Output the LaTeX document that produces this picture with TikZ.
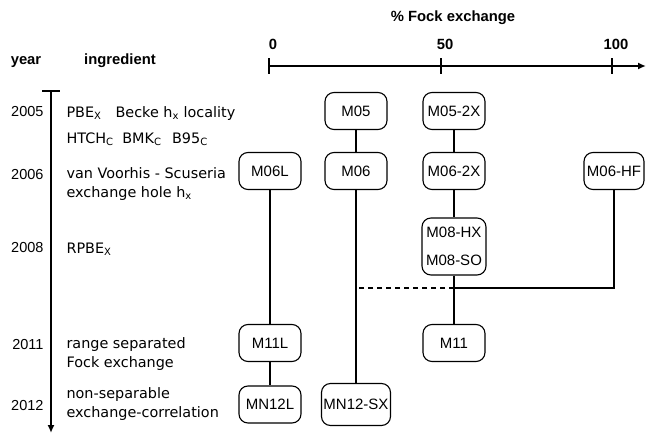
\documentclass[tikz,border=0pt]{standalone}
\usepackage{fontspec}
\setmainfont{Liberation Sans}
\newfontfamily\dvsans{DejaVu Sans}
\usetikzlibrary{arrows.meta,positioning}
\tikzset{
  ax/.style={-{Latex[length=8pt,width=7pt]},line width=1.8pt},
  link/.style={line width=1.8pt},
  dlink/.style={line width=1.8pt,dash pattern=on 5pt off 4pt},
  mbox/.style={draw,line width=1.1pt,rounded corners=9pt,minimum width=62pt,
    minimum height=37pt,inner sep=2pt,font=\fontsize{15}{28}\selectfont},
  hdr/.style={font=\fontsize{14.8}{16}\selectfont\bfseries},
  yr/.style={anchor=east,font=\fontsize{14.5}{16}\selectfont},
  ingr/.style={anchor=base west,align=left,font=\dvsans\fontsize{14.4}{18.5}\selectfont},
}

\begin{document}
\begin{tikzpicture}[x=1pt,y=-1pt]
  \useasboundingbox (0,0) rectangle (646,434);
  % headers
  \node[hdr] (hyear) at (26,62) {year};
  \node[hdr] (hingr) at (120,61) {ingredient};
  \node[hdr] (hfock) at (453,18) {\% Fock exchange};
  % Fock axis
  \coordinate (a0) at (269,66);
  \coordinate (a50) at (441,66);
  \coordinate (a100) at (612,66);
  \coordinate (aend) at (646,66);
  \draw[ax] (a0) -- (aend);
  \foreach \p/\l in {a0/0,a50/50,a100/100}{%
    \draw[link] ([yshift=8pt]\p) -- ([yshift=-8pt]\p);
    \node[hdr] (lab\l) at ([xshift=4pt,yshift=22pt]\p) {\l};}
  % time line
  \coordinate (ttop) at (51,91);
  \coordinate (tbot) at (51,433);
  \draw[link] ([xshift=-9pt]ttop) -- ([xshift=9pt]ttop);
  \draw[ax] (ttop) -- (tbot);
  % years
  \node[yr] (y2005) at (47,112) {2005};
  \node[yr] (y2006) at (47,175) {2006};
  \node[yr] (y2008) at (47,248) {2008};
  \node[yr] (y2011) at (47,345) {2011};
  \node[yr] (y2012) at (47,406) {2012};
  % ingredients (base = last line)
  \node[ingr] (i2005) at (63,143) {PBE\textsubscript{X}\hspace{14pt}Becke h\textsubscript{x} locality\\[7pt]
    HTCH\textsubscript{C}\hspace{4pt} BMK\textsubscript{C}\hspace{6pt} B95\textsubscript{C}};
  \node[ingr] (i2006) at (63,197) {van Voorhis - Scuseria\\exchange hole h\textsubscript{x}};
  \node[ingr] (i2008) at (63,253) {RPBE\textsubscript{X}};
  \node[ingr] (i2011) at (63,367) {range separated\\Fock exchange};
  \node[ingr] (i2012) at (63,417) {non-separable\\exchange-correlation};
  % functionals
  \node[mbox] (m05) at (356,111) {M05};
  \node[mbox] (m052x) at (454,111) {M05-2X};
  \node[mbox] (m06l) at (270,171) {M06L};
  \node[mbox] (m06) at (356,171) {M06};
  \node[mbox] (m062x) at (454,171) {M06-2X};
  \node[mbox,minimum width=60pt] (m06hf) at (614,171) {M06-HF};
  \node[mbox,minimum width=64pt,minimum height=57pt,align=center] (m08) at (454,246.5) {M08-HX\\M08-SO};
  \node[mbox] (m11l) at (270,343) {M11L};
  \node[mbox] (m11) at (454,343) {M11};
  \node[mbox] (mn12l) at (270,404.5) {MN12L};
  \node[mbox,minimum height=42pt] (mn12sx) at (356,404.5) {MN12-SX};
  % lines of descent
  \draw[link] (m06l) -- (m11l) -- (mn12l);
  \draw[link] (m05) -- (m06) -- (mn12sx);
  \draw[link] (m052x) -- (m062x) -- (m08) -- (m11);
  \coordinate (jn) at (454,288);
  \draw[link] (m06hf.south) |- (jn);
  \draw[dlink] (jn) -- (jn -| m06.south);
\end{tikzpicture}
\end{document}
